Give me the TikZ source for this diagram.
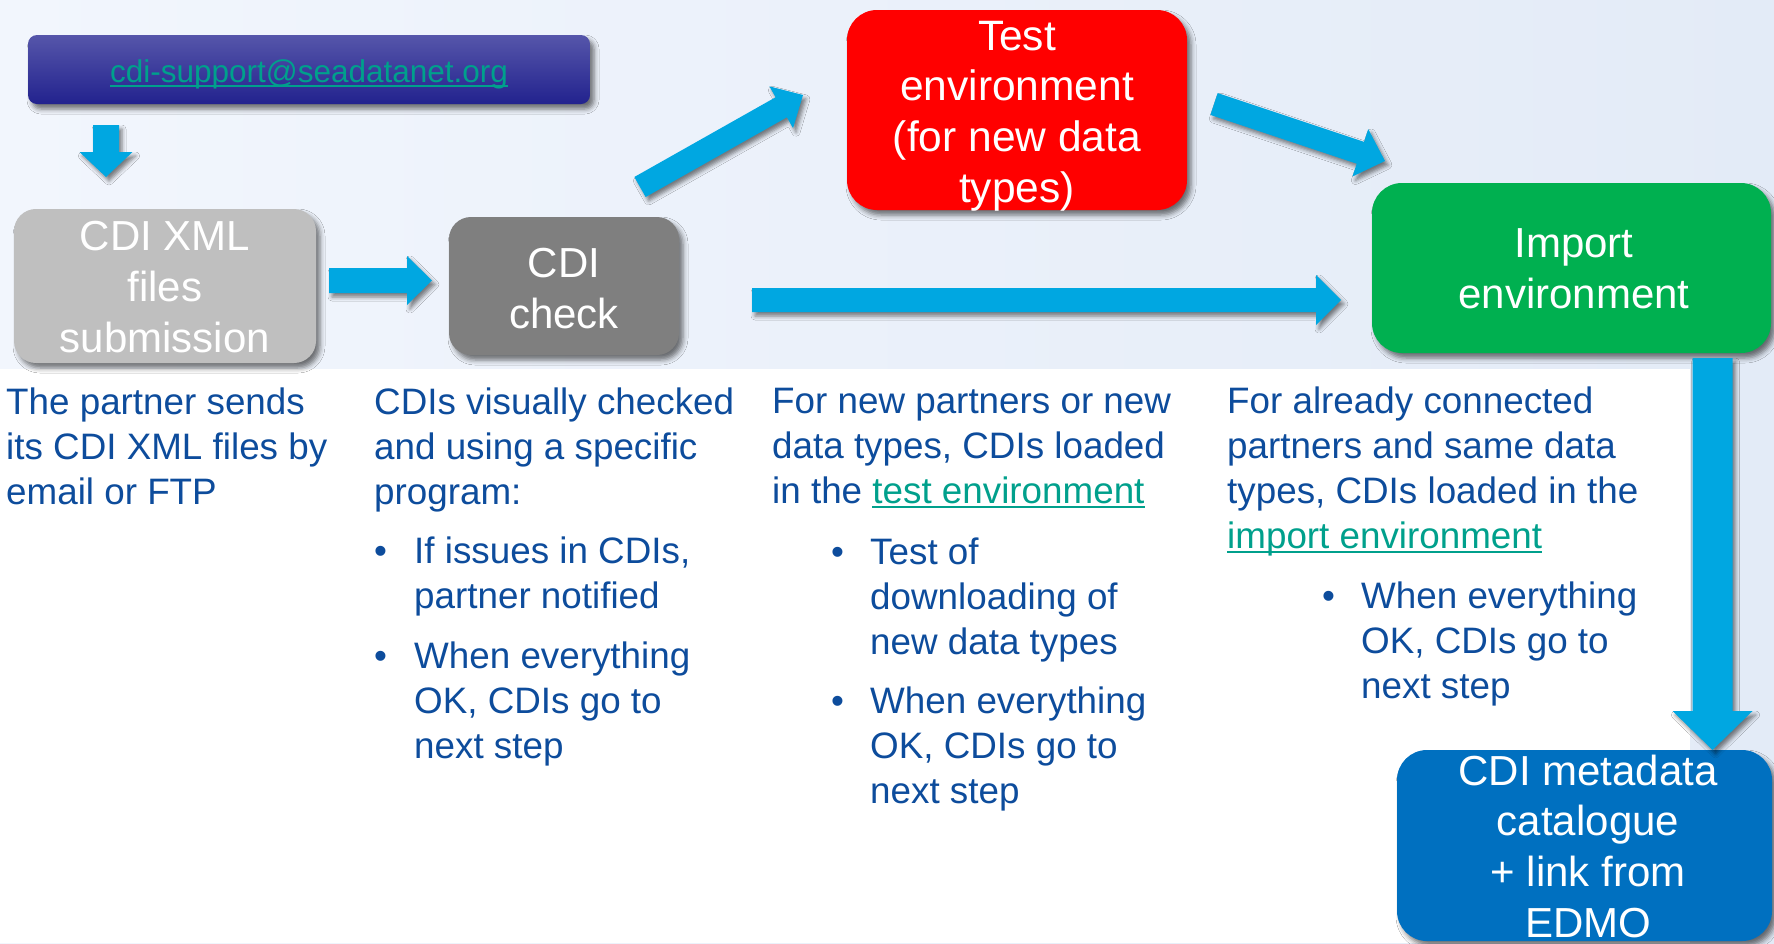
\documentclass[tikz,border=0pt]{standalone}
\usepackage{fontspec}
\setmainfont{Liberation Sans}
\usetikzlibrary{calc,shadows.blur}

\definecolor{bgL}{HTML}{F2F6FD}
\definecolor{bgR}{HTML}{E3EBF7}
\definecolor{arrowc}{HTML}{00A7E1}
\definecolor{descc}{HTML}{0D4C9C}
\definecolor{linkc}{HTML}{00A08C}
\definecolor{mailtop}{HTML}{5656AA}
\definecolor{mailbot}{HTML}{22228E}
\definecolor{xmlc}{HTML}{BFBFBF}
\definecolor{checkc}{HTML}{7F7F7F}
\definecolor{testc}{HTML}{FF0000}
\definecolor{importc}{HTML}{00B050}
\definecolor{metac}{HTML}{0070C0}

% stacked lines, first baseline = node baseline
\newcommand\clines[1]{\vtop{\halign{\hfil##\hfil\cr#1\crcr}}}
\newcommand\llines[1]{\vtop{\halign{##\hfil\cr#1\crcr}}}
% underlined hyperlink-style text
\newcommand\ulink[2][2.4pt]{\setbox0=\hbox{\color{linkc}#2}\rlap{\color{linkc}\rule[-5pt]{\wd0}{#1}}\box0}

% block arrow: tail, tip, half shaft width, half head width, head length
\newcommand\flowarrow[5]{%
  \coordinate (fahead) at ($(#2)!#5!(#1)$);
  \fill[arrowstyle]
    ($(#1)!#3!90:(#2)$) -- ($(fahead)!#3!90:(#2)$) -- ($(fahead)!#4!90:(#2)$)
    -- (#2)
    -- ($(fahead)!#4!-90:(#2)$) -- ($(fahead)!#3!-90:(#2)$) -- ($(#1)!#3!-90:(#2)$)
    -- cycle;
}

\begin{document}
\begin{tikzpicture}[x=1pt,y=-1pt,
  box/.style={rectangle, rounded corners=30pt, inner sep=0pt,
    blur shadow={shadow xshift=4pt, shadow yshift=-5pt, shadow blur radius=5pt, shadow opacity=55}},
  boxtext/.style={text=white, font=\fontsize{42}{51}\selectfont, inner sep=0pt, anchor=base},
  desc/.style={text=descc, font=\fontsize{36.8}{45}\selectfont, inner sep=0pt, anchor=base west},
  arrowstyle/.style={fill=arrowc,
    blur shadow={shadow xshift=3pt, shadow yshift=-4pt, shadow blur radius=4pt, shadow opacity=50}}
]
\useasboundingbox (0,0) rectangle (1774,943);

% background
\shade[left color=bgL, right color=bgR] (0,0) rectangle (1774,943);
\fill[white] (0,369) rectangle (1690,943);

% process boxes
\node[box, rounded corners=9pt, top color=mailtop, bottom color=mailbot,
  minimum width=562pt, minimum height=69pt] (email) at (309,69.5) {};
\node[box, rounded corners=22pt, fill=xmlc, minimum width=302pt, minimum height=154pt] (xml) at (165,286) {};
\node[box, rounded corners=22pt, fill=checkc, minimum width=230pt, minimum height=138pt] (check) at (564,286) {};
\node[box, fill=testc, minimum width=340pt, minimum height=200pt] (test) at (1017,110) {};
\node[box, fill=importc, minimum width=399pt, minimum height=170pt] (import) at (1571.5,268) {};
\node[box, fill=metac, minimum width=375pt, minimum height=191pt] (meta) at (1584.5,845.5) {};

% connectors
\coordinate (a1s) at (106,125);    \coordinate (a1e) at (106,177);
\coordinate (a2s) at (329,280.5);  \coordinate (a2e) at (432,280.5);
\coordinate (a3s) at (640,187);    \coordinate (a3e) at (803,95);
\coordinate (a4s) at (752,300);    \coordinate (a4e) at (1341,300);
\coordinate (a5s) at (1214,104);   \coordinate (a5e) at (1385,161);
\coordinate (a6s) at (1712.5,358); \coordinate (a6e) at (1712.5,750);
\flowarrow{a1s}{a1e}{13pt}{26.5pt}{25pt}
\flowarrow{a2s}{a2e}{12.5pt}{24.5pt}{25pt}
\flowarrow{a3s}{a3e}{11.5pt}{24pt}{25pt}
\flowarrow{a4s}{a4e}{12pt}{25pt}{25pt}
\flowarrow{a5s}{a5e}{11.5pt}{25pt}{26pt}
\flowarrow{a6s}{a6e}{20pt}{40pt}{39pt}

% box labels
\node[boxtext, font=\fontsize{31.5}{38}\selectfont] (emailtxt) at (309,82) {\ulink[2pt]{cdi-support@seadatanet.org}};
\node[boxtext] (xmltxt) at (165,250) {\clines{CDI XML\cr files\cr submission}};
\node[boxtext] (checktxt) at (564,277) {\clines{CDI\cr check}};
\node[boxtext, font=\fontsize{42.5}{50.7}\selectfont] (testtxt) at (1017,50) {\clines{Test\cr environment\cr (for new data\cr types)}};
\node[boxtext] (importtxt) at (1574,257) {\clines{Import\cr environment}};
\node[boxtext, font=\fontsize{42}{50.7}\selectfont] (metatxt) at (1588,785) {\clines{CDI metadata\cr catalogue\cr + link from\cr EDMO}};

% descriptions
\node[desc] (d1) at (6,414) {\llines{The partner sends\cr its CDI XML files by\cr email or FTP}};

\node[desc] (d2) at (374,414) {\llines{CDIs visually checked\cr and using a specific\cr program:}};
\node[desc] (d2b1) at (374,563) {\textbullet};
\node[desc] (d2t1) at (414,563) {\llines{If issues in CDIs,\cr partner notified}};
\node[desc] (d2b2) at (374,668) {\textbullet};
\node[desc] (d2t2) at (414,668) {\llines{When everything\cr OK, CDIs go to\cr next step}};

\node[desc] (d3) at (772,413) {\llines{For new partners or new\cr data types, CDIs loaded\cr in the \ulink{test environment}}};
\node[desc] (d3b1) at (831,564) {\textbullet};
\node[desc] (d3t1) at (870,564) {\llines{Test of\cr downloading of\cr new data types}};
\node[desc] (d3b2) at (831,713) {\textbullet};
\node[desc] (d3t2) at (870,713) {\llines{When everything\cr OK, CDIs go to\cr next step}};

\node[desc] (d4) at (1227,413) {\llines{For already connected\cr partners and same data\cr types, CDIs loaded in the\cr \ulink{import environment}}};
\node[desc] (d4b1) at (1322,608) {\textbullet};
\node[desc] (d4t1) at (1361,608) {\llines{When everything\cr OK, CDIs go to\cr next step}};
\end{tikzpicture}
\end{document}
